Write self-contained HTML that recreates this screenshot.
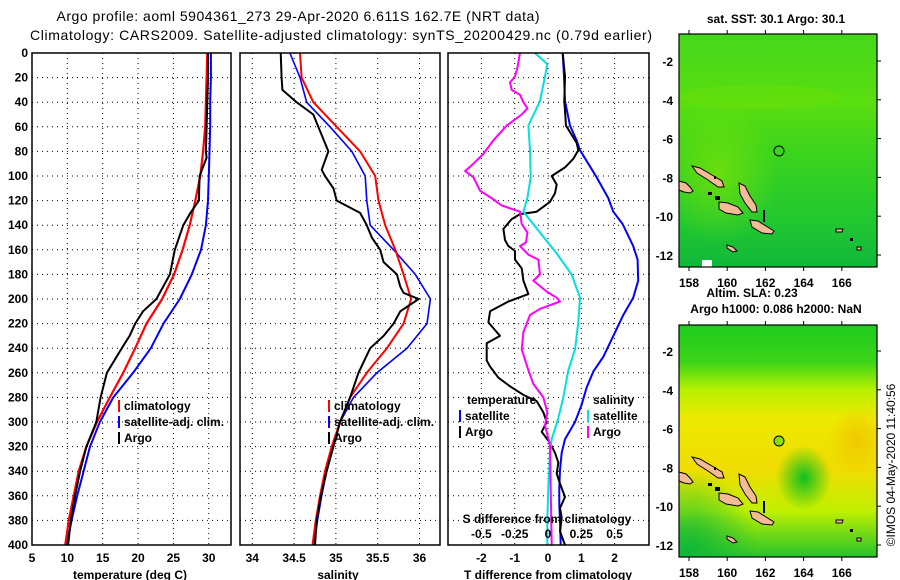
<!DOCTYPE html>
<html><head><meta charset="utf-8"><style>
body{margin:0;background:#fff;}
svg{display:block;font-family:"Liberation Sans",sans-serif;}
.tk{font-size:12px;font-weight:bold;fill:#000;}
.lg{font-size:12px;font-weight:bold;fill:#000;}
</style></head><body>
<svg id="fig" width="900" height="580" viewBox="0 0 900 580" xmlns="http://www.w3.org/2000/svg">
<defs>
<linearGradient id="sstg" x1="0" y1="0" x2="0" y2="1">
<stop offset="0" stop-color="#44d81a"/><stop offset="0.3" stop-color="#5ade10"/><stop offset="0.5" stop-color="#3cd41c"/><stop offset="0.8" stop-color="#22c830"/><stop offset="1" stop-color="#10b83a"/></linearGradient>
<radialGradient id="sstl" cx="0.2" cy="0.6" r="0.3"><stop offset="0" stop-color="#8ee600" stop-opacity="0.6"/><stop offset="1" stop-color="#8ee600" stop-opacity="0"/></radialGradient>
<linearGradient id="slag" x1="0" y1="0" x2="0" y2="1">
<stop offset="0" stop-color="#1ecc1e"/><stop offset="0.16" stop-color="#3cd418"/><stop offset="0.28" stop-color="#b8f000"/><stop offset="0.4" stop-color="#ecea00"/><stop offset="0.62" stop-color="#f0dc00"/><stop offset="0.8" stop-color="#c0f000"/><stop offset="1" stop-color="#26c42c"/></linearGradient>
<radialGradient id="slab" cx="0.63" cy="0.66" r="0.14"><stop offset="0" stop-color="#10c020"/><stop offset="1" stop-color="#10c020" stop-opacity="0"/></radialGradient>
<radialGradient id="slac" cx="0.05" cy="0.98" r="0.35"><stop offset="0" stop-color="#10b838"/><stop offset="1" stop-color="#10b838" stop-opacity="0"/></radialGradient>
<radialGradient id="slao" cx="0.9" cy="0.5" r="0.15"><stop offset="0" stop-color="#f0c800"/><stop offset="1" stop-color="#f0c800" stop-opacity="0"/></radialGradient>
<g id="isl">
<path d="M679,181 L686,183 L690,187 L693,191 L690,193 L684,192 L679,190Z" fill="#f4bc96" stroke="#000" stroke-width="1"/>
<path d="M692,166 L700,168 L712,175 L722,181 L724,187 L718,187 L708,180 L697,173Z" fill="#f4bc96" stroke="#000" stroke-width="1"/>
<path d="M739,183 L745,186 L750,196 L756,205 L757,212 L752,212 L745,203 L740,194Z" fill="#f4bc96" stroke="#000" stroke-width="1"/>
<path d="M719,202 L728,203 L738,207 L743,213 L738,215 L726,213 L719,209Z" fill="#f4bc96" stroke="#000" stroke-width="1"/>
<path d="M750,220 L758,221 L766,226 L774,231 L772,234 L762,233 L752,227Z" fill="#f4bc96" stroke="#000" stroke-width="1"/>
<path d="M727,245 L733,247 L737,251 L733,252 L727,248Z" fill="#f4bc96" stroke="#000" stroke-width="1"/>
<path d="M836,229 L843,229 L842,232 L836,232Z" fill="#f4bc96" stroke="#000" stroke-width="1"/>
<path d="M857,247 L861,247 L861,250 L857,250Z" fill="#f4bc96" stroke="#000" stroke-width="1"/>
<rect x="763" y="210" width="2" height="12" fill="#000"/>
<rect x="715" y="196" width="5" height="4" fill="#000"/>
<rect x="708" y="192" width="4" height="3" fill="#000"/>
<rect x="850" y="238" width="3" height="3" fill="#000"/>
<rect x="714" y="176" width="2" height="3" fill="#000"/>
</g>
</defs>

<text x="298" y="21" text-anchor="middle" font-size="14" textLength="483">Argo profile: aoml 5904361_273 29-Apr-2020 6.611S 162.7E (NRT data)</text>
<text x="341" y="40" text-anchor="middle" font-size="14" textLength="622">Climatology: CARS2009. Satellite-adjusted climatology: synTS_20200429.nc (0.79d earlier)</text>

<g id="p1"></g>
<g id="p2"></g>
<g id="p3"></g>

<g>
<rect x="679" y="34" width="198" height="233" fill="url(#sstg)"/>
<rect x="679" y="34" width="198" height="233" fill="url(#sstl)"/>
<ellipse cx="760" cy="97" rx="80" ry="12" fill="#7ae400" opacity="0.25"/>
<rect x="702" y="260" width="10" height="7" fill="#fff"/>
<use href="#isl"/>
<circle cx="779" cy="151" r="5" fill="none" stroke="#000" stroke-width="1"/>
<rect x="679" y="34" width="198" height="233" fill="none" stroke="#000" stroke-width="1.2"/>
<g id="m1ax"></g>
<text x="776" y="23" text-anchor="middle" class="tk">sat. SST: 30.1 Argo: 30.1</text>
</g>
<g>
<rect x="679" y="325" width="198" height="232" fill="url(#slag)"/>
<rect x="679" y="325" width="198" height="232" fill="url(#slab)"/>
<rect x="679" y="325" width="198" height="232" fill="url(#slac)"/>
<rect x="679" y="325" width="198" height="232" fill="url(#slao)"/>
<use href="#isl" transform="translate(0,291)"/>
<circle cx="779" cy="441" r="5" fill="#88e000" stroke="#000" stroke-width="1"/>
<rect x="679" y="325" width="198" height="232" fill="none" stroke="#000" stroke-width="1.2"/>
<g id="m2ax"></g>
<text x="752" y="297" text-anchor="middle" class="tk">Altim. SLA: 0.23</text>
<text x="776" y="313" text-anchor="middle" class="tk">Argo h1000: 0.086 h2000: NaN</text>
</g>
<text transform="translate(895,465) rotate(-90)" text-anchor="middle" font-size="12">©IMOS 04-May-2020 11:40:56</text>
</svg>
<script>
const stdDepths = [0,20,40,60,80,100,120,140,160,180,200,220,240,260,280,300,320,340,360,380,400];
const tempClim = [29.8,29.7,29.6,29.5,29.2,28.8,28.1,27.3,26.3,25.1,23.4,21.2,19.6,17.9,16.0,14.2,12.7,11.6,10.9,10.2,9.7];
const tempSat = [30.3,30.3,30.2,30.2,30.1,30.0,29.9,29.6,28.9,27.6,25.9,23.6,21.8,19.3,16.5,14.6,13.2,12.3,11.4,10.6,9.9];
const argoTDepths = [0,20,40,60,80,85,100,120,130,140,160,180,200,210,220,230,240,260,280,300,320,340,360,380,400];
const tempArgo = [29.9,29.9,29.8,29.7,29.6,29.7,28.7,28.6,27.4,26.4,25.2,24.5,22.6,20.7,19.6,18.8,17.7,15.6,14.7,14.1,12.7,11.8,11.1,10.5,10.1];
const salClim = [34.57,34.59,34.73,35.01,35.29,35.47,35.51,35.59,35.71,35.81,35.90,35.81,35.61,35.37,35.17,35.05,34.95,34.87,34.81,34.76,34.72];
const salSat = [34.45,34.57,34.65,34.93,35.19,35.35,35.37,35.41,35.69,35.95,36.13,36.09,35.85,35.49,35.21,35.05,34.96,34.89,34.83,34.78,34.74];
const argoSDepths = [0,20,30,40,50,60,80,95,100,110,120,130,140,150,160,170,180,190,195,200,210,220,230,240,260,280,300,320,340,360,380,400];
const salArgo = [34.34,34.35,34.36,34.53,34.73,34.79,34.91,34.83,34.87,34.97,35.01,35.29,35.37,35.43,35.53,35.57,35.73,35.77,35.81,35.99,35.77,35.69,35.57,35.41,35.27,35.17,35.05,34.97,34.89,34.82,34.77,34.75];
const dTArgoDepths = [0,19,39,59,73,79,86,93,100,107,114,121,129,131,135,143,152,157,161,168,175,185,196,202,210,219,230,236,250,255,264,271,278,283,292,300,308,317,325,333,342,350,361,370,378,389,400];
const dTArgo = [0.44,0.51,0.49,0.54,0.86,0.91,0.76,0.51,0.11,0.26,0.21,0.06,-0.34,-0.84,-1.09,-1.34,-1.29,-1.19,-0.99,-0.99,-0.79,-0.74,-0.59,-1.19,-1.74,-1.79,-1.44,-1.84,-1.84,-1.74,-1.49,-1.14,-0.74,-0.34,-0.14,-0.04,-0.19,0.06,0.21,0.31,0.26,0.36,0.51,0.36,0.41,0.36,0.51];
const dTSatDepths = [0,19,39,59,71,79,101,118,129,139,157,168,185,199,213,230,247,259,272,286,300,314,325,339,353,367,381,400];
const dTSat = [0.44,0.48,0.51,0.66,0.86,0.96,1.46,1.81,1.96,2.24,2.56,2.69,2.71,2.56,2.26,1.96,1.66,1.36,1.16,1.01,0.81,0.51,0.41,0.36,0.34,0.34,0.36,0.38];
const dSSatDepths = [0,9,19,39,59,79,101,118,129,146,163,180,199,219,241,258,280,297,314,325,353,381,400];
const dSSat = [-0.0975,-0.005,-0.0225,-0.06,-0.1475,-0.135,-0.13,-0.155,-0.185,-0.06,0.065,0.1775,0.24,0.2275,0.2025,0.1525,0.115,0.0775,0.0275,0.015,0.0025,-0.005,-0.005];
const dSArgoDepths = [0,12,19,24,30,34,40,45,50,59,71,82,90,96,101,112,119,124,129,139,146,154,157,164,168,180,185,194,199,202,208,213,227,241,258,269,280,292,303,308,319,353,400];
const dSArgo = [-0.21,-0.23,-0.2475,-0.285,-0.2725,-0.21,-0.185,-0.155,-0.1975,-0.31,-0.41,-0.485,-0.56,-0.6225,-0.56,-0.51,-0.41,-0.3475,-0.21,-0.1975,-0.155,-0.165,-0.21,-0.1475,-0.0725,-0.06,-0.11,-0.01,0.065,0.09,-0.06,-0.135,-0.185,-0.1975,-0.1475,-0.11,-0.035,-0.005,-0.0225,-0.01,0.015,0.02,0.0275];
const depthTicks = [0,20,40,60,80,100,120,140,160,180,200,220,240,260,280,300,320,340,360,380,400];
const tempTicks = [5,10,15,20,25,30];
const salTicks = [34,34.5,35,35.5,36];
const salTickLabels = ["34","34.5","35","35.5","36"];
const dTTicks = [-2,-1,0,1,2];
const dSTicks = [-0.5,-0.25,0,0.25,0.5];
const dSTickLabels = ["-0.5","-0.25","0","0.25","0.5"];
const lonTicks = [158,160,162,164,166];
const latTicks = [-2,-4,-6,-8,-10,-12];

const NS="http://www.w3.org/2000/svg";
function mk(tag, attrs, parent){const e=document.createElementNS(NS,tag);for(const k in attrs)e.setAttribute(k,attrs[k]);parent.appendChild(e);return e;}
const Y0=53, Y1=545;
const yD = d => Y0 + (Y1-Y0)*d/400;
const xT = t => 32 + (t-5)*7.07;
const xS = s => 252.3 + (s-34)*83.6;
const xDT = v => 548 + v*33.3;
const xDS = v => 548 + v*133.2;

function panel(g, x0, x1, xt, ticks, labels, title, titleX){
  for(const d of depthTicks){
    const l=mk('line',{x1:x0,x2:x1,y1:yD(d),y2:yD(d),stroke:'#000','stroke-width':1,'stroke-dasharray':'1,4'},g);
    
    
  }
  ticks.forEach((t,i)=>{
    const x=xt(t);
    const l=mk('line',{x1:x,x2:x,y1:Y0,y2:Y1,stroke:'#000','stroke-width':1,'stroke-dasharray':'1,4'},g);
    
    
    if(labels){
      const tx=mk('text',{x:x,y:562,'text-anchor':'middle',class:'tk'},g);
      tx.textContent=labels[i];
      
      
    }
  });
  const at=mk('text',{x:titleX,y:579,'text-anchor':'middle',class:'tk'},g);
  at.textContent=title;
  
  
}
function series(g, depths, vals, xf, color, w, name){
  const p=mk('path',{d:depths.map((d,i)=>(i?'L':'M')+xf(vals[i]).toFixed(1)+','+yD(d).toFixed(1)).join(''),fill:'none',stroke:color,'stroke-width':w,'stroke-linejoin':'round'},g);
  
  
}
function frame(g,x0,x1){
  const r=mk('rect',{x:x0,y:Y0,width:x1-x0,height:Y1-Y0,fill:'none',stroke:'#000','stroke-width':1.5},g);
  
  
}
function legend(g, x, ys, colors, texts){
  texts.forEach((t,i)=>{
    if(colors[i]){
      const r=mk('rect',{x:x,y:ys[i]-10,width:2,height:12,fill:colors[i]},g);
      
      
    }
    const tx=mk('text',{x:x+6,y:ys[i],class:'lg'},g);
    tx.textContent=t;
    
    
  });
}

const g1=document.getElementById('p1'), g2=document.getElementById('p2'), g3=document.getElementById('p3');
for(const d of depthTicks){
  const t=mk('text',{x:28,y:yD(d)+4,'text-anchor':'end',class:'tk'},g1);
  t.textContent=d;
  
  
}
panel(g1,32,231,xT,tempTicks,tempTicks.map(String),'temperature (deg C)',130);
series(g1,stdDepths,tempSat,xT,'#0000ff',2,'temp-satellite-line');
series(g1,stdDepths,tempClim,xT,'#ff0000',2.2,'temp-climatology-line');
series(g1,argoTDepths,tempArgo,xT,'#000',2,'temp-argo-line');
frame(g1,32,231);
legend(g1,118,[410,426,442],['#ff0000','#0000ff','#000'],['climatology','satellite-adj. clim.','Argo']);

panel(g2,240,440,xS,salTicks,salTickLabels,'salinity',338);
series(g2,stdDepths,salSat,xS,'#0000ff',1.6,'sal-satellite-line');
series(g2,stdDepths,salClim,xS,'#ff0000',2,'sal-climatology-line');
series(g2,argoSDepths,salArgo,xS,'#000',2,'sal-argo-line');
frame(g2,240,440);
legend(g2,328,[410,426,442],['#ff0000','#0000ff','#000'],['climatology','satellite-adj. clim.','Argo']);

panel(g3,448,649,xDT,dTTicks,dTTicks.map(String),'T difference from climatology',548);
series(g3,dTSatDepths,dTSat,xDT,'#0000ff',2,'dT-satellite-line');
series(g3,dTArgoDepths,dTArgo,xDT,'#000',2,'dT-argo-line');
series(g3,dSSatDepths,dSSat,xDS,'#00e0e0',2,'dS-satellite-line');
series(g3,dSArgoDepths,dSArgo,xDS,'#ff00ff',2,'dS-argo-line');
frame(g3,448,649);
legend(g3,459,[420,436],['#0000ff','#000'],['satellite','Argo']);
legend(g3,587,[420,436],['#00e0e0','#ff00ff'],['satellite','Argo']);
{const t=mk('text',{x:467,y:404,class:'lg'},g3);t.textContent='temperature';

}
{const t=mk('text',{x:593,y:404,class:'lg'},g3);t.textContent='salinity';

}
{const t=mk('text',{x:547,y:523,'text-anchor':'middle',class:'lg'},g3);t.textContent='S difference from climatology';

}
dSTicks.forEach((v,i)=>{
  const t=mk('text',{x:xDS(v),y:538,'text-anchor':'middle',class:'lg'},g3);
  t.textContent=dSTickLabels[i];
  
  
});

const lonX = l => 689 + (l-158)*19.1;
function mapAxes(gid, top, bottom, latY){
  const g=document.getElementById(gid);
  lonTicks.forEach(l=>{
    mk('line',{x1:lonX(l),x2:lonX(l),y1:top,y2:top-4,stroke:'#000'},g);
    mk('line',{x1:lonX(l),x2:lonX(l),y1:bottom,y2:bottom+4,stroke:'#000'},g);
    const t=mk('text',{x:lonX(l),y:bottom+20,'text-anchor':'middle',class:'tk'},g);
    t.textContent=l;
    
    
  });
  latTicks.forEach(la=>{
    const y=latY(la);
    mk('line',{x1:877,x2:881,y1:y,y2:y,stroke:'#000'},g);
    const t=mk('text',{x:673,y:y+5,'text-anchor':'end',class:'tk'},g);
    t.textContent=la;
    
    
  });
}
mapAxes('m1ax',34,267,la=>61+(-2-la)*19.4);
mapAxes('m2ax',325,557,la=>351+(-2-la)*19.4);
</script>
</body></html>
